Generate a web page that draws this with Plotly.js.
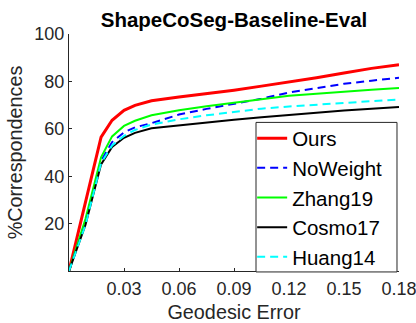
<!DOCTYPE html>
<html>
<head>
<meta charset="utf-8">
<script src="https://cdn.plot.ly/plotly-3.0.1.min.js"></script>
<style>html,body{margin:0;padding:0;background:#fff;}#chart{width:416px;height:323px;}</style>
</head>
<body>
<div id="chart"></div>
<script>
// Geodesic error thresholds (x)
var geoError = [0, 0.009, 0.0175, 0.0235, 0.03, 0.036, 0.045, 0.06, 0.075, 0.09, 0.105, 0.12, 0.135, 0.15, 0.165, 0.18];
// % correspondences for each method
var ours     = [0, 29, 56.5, 63.6, 67.8, 69.9, 71.8, 73.4, 74.8, 76.3, 78.0, 79.7, 81.5, 83.5, 85.5, 87.0];
var noWeight = [0, 21, 46.5, 54.4, 58.5, 60.6, 62.4, 66.0, 68.4, 70.4, 72.7, 75.3, 77.2, 79.0, 80.3, 81.5];
var zhang19  = [0, 22, 48.0, 56.8, 61.2, 63.4, 65.7, 67.8, 69.5, 70.9, 72.5, 73.9, 74.8, 75.8, 76.5, 77.2];
var cosmo17  = [0, 19.5, 45.0, 52.3, 56.2, 58.3, 60.2, 61.5, 62.7, 63.8, 64.9, 65.9, 66.8, 67.7, 68.5, 69.2];
var huang14  = [0, 19.5, 45.5, 53.0, 57.0, 59.5, 61.8, 64.0, 65.7, 67.1, 68.5, 69.4, 70.2, 71.0, 71.7, 72.4];
var xTicks = [0.03, 0.06, 0.09, 0.12, 0.15, 0.18];
var xTickText = ['0.03', '0.06', '0.09', '0.12', '0.15', '0.18'];
var yTicks = [20, 40, 60, 80, 100];

var FONT = 'Liberation Sans, Arial, sans-serif';
var traces = [
  {x: geoError, y: ours, name: 'Ours', mode: 'lines', line: {color: '#ff0000', width: 3}},
  {x: geoError, y: noWeight, name: 'NoWeight', mode: 'lines', line: {color: '#0000ff', width: 2, dash: '8px,5px'}},
  {x: geoError, y: zhang19, name: 'Zhang19', mode: 'lines', line: {color: '#00ff00', width: 2}},
  {x: geoError, y: cosmo17, name: 'Cosmo17', mode: 'lines', line: {color: '#000000', width: 2}},
  {x: geoError, y: huang14, name: 'Huang14', mode: 'lines', line: {color: '#00ffff', width: 2, dash: '8px,5px'}}
];
var layout = {
  width: 416, height: 323,
  margin: {l: 69, r: 17, t: 33.5, b: 52, pad: 0},
  paper_bgcolor: '#fff', plot_bgcolor: '#fff',
  font: {family: FONT, color: '#262626', size: 18},
  title: {text: '<b>ShapeCoSeg-Baseline-Eval</b>', font: {family: FONT, size: 20.5, color: '#000'}, x: 0.5625, xanchor: 'center', y: 1, yref: 'paper', yanchor: 'bottom', pad: {b: 7}},
  xaxis: {
    range: [0, 0.18], tickvals: xTicks, ticktext: xTickText,
    ticks: 'inside', ticklen: 3, tickcolor: '#262626',
    showline: true, linecolor: '#262626', linewidth: 1, mirror: false,
    showgrid: false, zeroline: false, ticklabelstandoff: 1, ticklabeloverflow: 'allow',
    tickfont: {family: FONT, size: 18, color: '#262626'},
    title: {text: 'Geodesic Error', font: {family: FONT, size: 19.8, color: '#262626'}, standoff: 21}
  },
  yaxis: {
    range: [0, 100], tickvals: yTicks,
    ticks: 'inside', ticklen: 3, tickcolor: '#262626',
    showline: true, linecolor: '#262626', linewidth: 1, mirror: false,
    showgrid: false, zeroline: false,
    tickfont: {family: FONT, size: 18, color: '#262626'},
    title: {text: '%Correspondences', font: {family: FONT, size: 19.8, color: '#262626'}, standoff: 6}
  },
  shapes: [{
    type: 'rect', xref: 'paper', yref: 'paper', layer: 'above',
    x0: 0.5667, x1: 0.9939, y0: -0.004, y1: 0.627,
    line: {color: '#262626', width: 1}, fillcolor: '#ffffff'
  }],
  showlegend: true,
  legend: {
    x: 0.555, y: -0.027, xanchor: 'left', yanchor: 'bottom',
    bgcolor: 'rgba(0,0,0,0)', borderwidth: 0,
    font: {family: FONT, size: 20.5, color: '#000'},
    tracegroupgap: 0, itemwidth: 30
  }
};
Plotly.newPlot('chart', traces, layout, {staticPlot: true, displayModeBar: false});
</script>
</body>
</html>
